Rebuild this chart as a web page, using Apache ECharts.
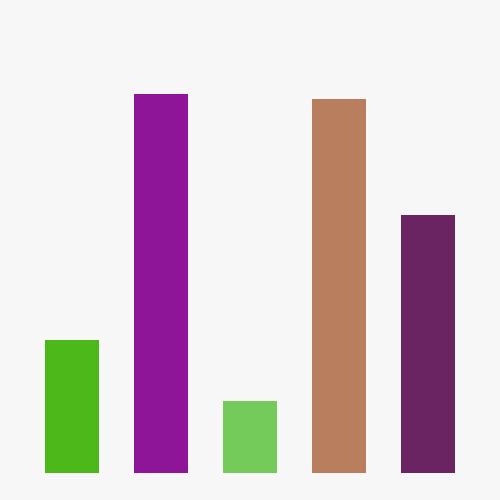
<!DOCTYPE html>
<html><head><meta charset="utf-8">
<script src="https://cdn.jsdelivr.net/npm/echarts@6/dist/echarts.min.js"></script>
<style>html,body{margin:0;padding:0;background:#f7f7f7;}#c{width:500px;height:500px;}</style>
</head><body><div id="c"></div>
<script>
const categories = ['A', 'B', 'C', 'D', 'E'];
const values = [133, 379, 72, 374, 258];
const colors = ['#4db81a', '#8e1597', '#74cb5a', '#b87e5e', '#6a2461'];

const chart = echarts.init(document.getElementById('c'));
chart.setOption({
  backgroundColor: '#f7f7f7',
  animation: false,
  grid: { left: 27.5, right: 27.5, top: 73, bottom: 27 },
  xAxis: { type: 'category', data: categories, show: false },
  yAxis: { type: 'value', min: 0, max: 400, show: false },
  series: [{
    type: 'bar',
    barWidth: 54,
    data: values.map((v, i) => ({ value: v, itemStyle: { color: colors[i] } }))
  }]
});
</script></body></html>
